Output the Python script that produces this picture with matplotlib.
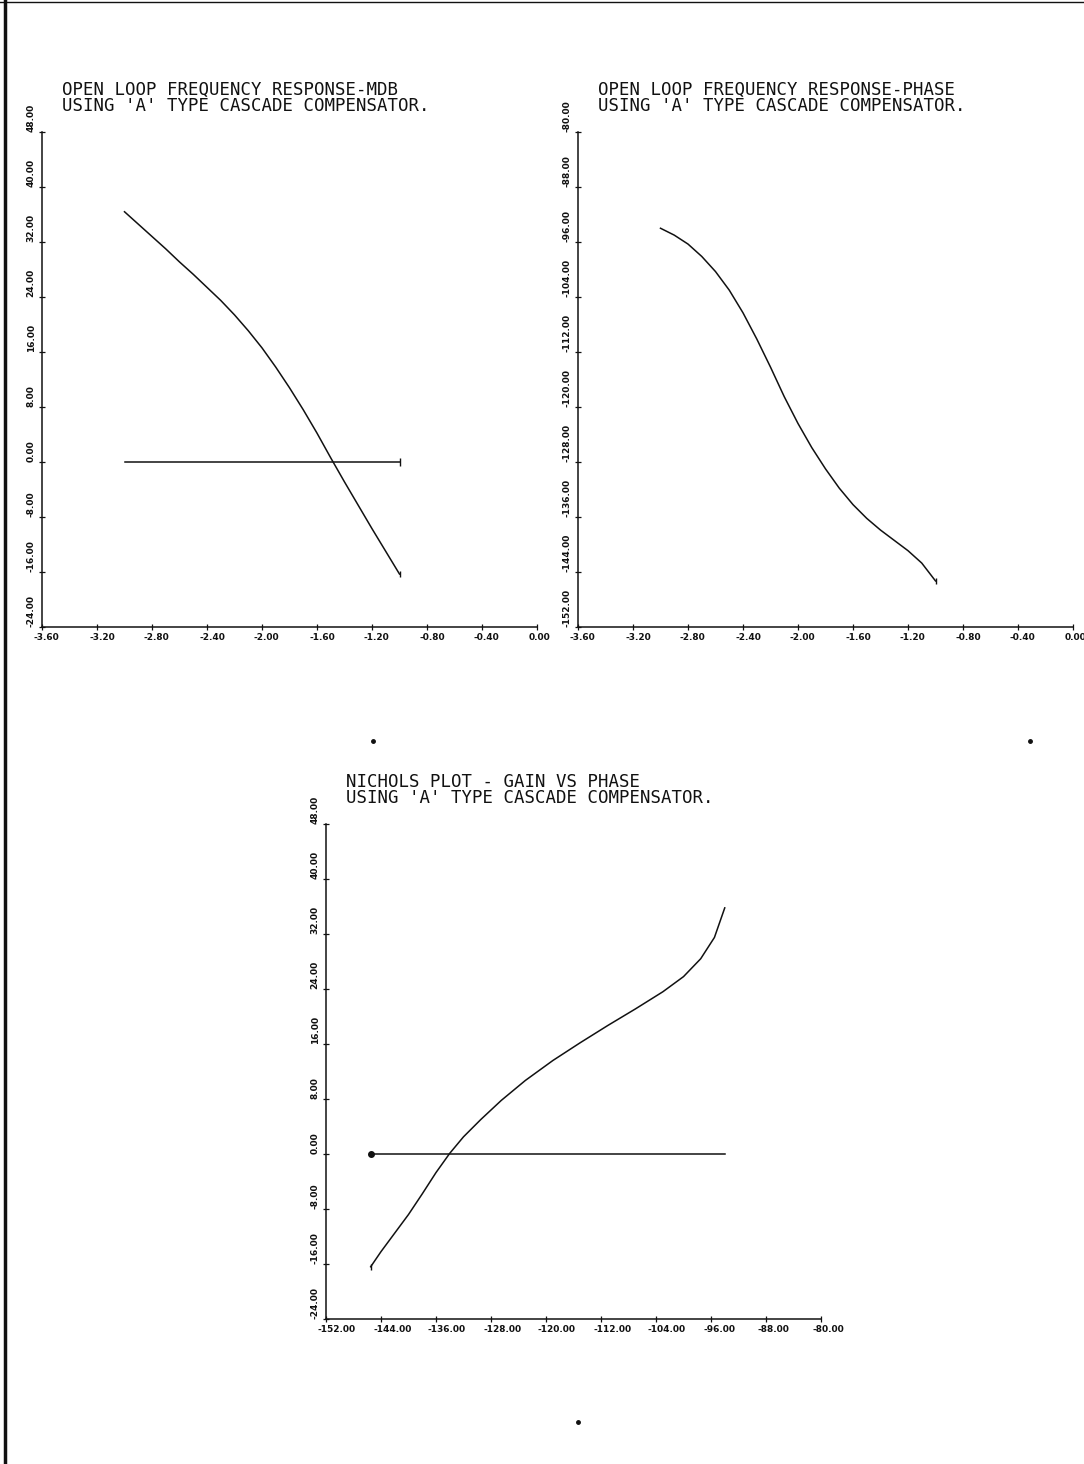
import matplotlib
matplotlib.use("Agg")
import matplotlib.pyplot as plt
import matplotlib.transforms as mtransforms
from matplotlib.lines import Line2D

# log10(frequency) and the open loop response
log_w = [-3.0, -2.9, -2.8, -2.7, -2.6, -2.5, -2.4, -2.3, -2.2, -2.1, -2.0,
         -1.9, -1.8, -1.7, -1.6, -1.5, -1.4, -1.3, -1.2, -1.1, -1.0]
gain_db = [36.4, 34.6, 32.8, 31.0, 29.1, 27.3, 25.4, 23.5, 21.4, 19.1, 16.6,
           13.8, 10.8, 7.6, 4.2, 0.6, -2.9, -6.3, -9.7, -13.0, -16.3]
phase_deg = [-94.0, -95.0, -96.3, -98.1, -100.3, -103.0, -106.3, -110.1, -114.2, -118.5, -122.4,
             -125.9, -129.0, -131.8, -134.2, -136.2, -137.9, -139.4, -140.9, -142.7, -145.3]

# Nichols panel, read separately
nichols_phase = [-145.5, -144.0, -142.0, -140.0, -138.0, -136.0, -134.0, -132.0, -129.5, -126.5,
                 -123.0, -119.0, -115.0, -111.0, -107.0, -103.0, -100.0, -97.5, -95.5, -94.0]
nichols_gain = [-16.4, -14.2, -11.5, -8.8, -5.8, -2.7, 0.1, 2.5, 5.0, 7.8,
                10.7, 13.6, 16.2, 18.7, 21.1, 23.6, 25.8, 28.4, 31.5, 35.8]

freq_ticks = [-3.6, -3.2, -2.8, -2.4, -2.0, -1.6, -1.2, -0.8, -0.4, 0.0]
gain_ticks = [-24, -16, -8, 0, 8, 16, 24, 32, 40, 48]
phase_ticks = [-152, -144, -136, -128, -120, -112, -104, -96, -88, -80]

titles = [
    "OPEN LOOP FREQUENCY RESPONSE-MDB\nUSING 'A' TYPE CASCADE COMPENSATOR.",
    "OPEN LOOP FREQUENCY RESPONSE-PHASE\nUSING 'A' TYPE CASCADE COMPENSATOR.",
    "NICHOLS PLOT - GAIN VS PHASE\nUSING 'A' TYPE CASCADE COMPENSATOR.",
]

W, H = 1084, 1464
INK = "#111111"
fig = plt.figure(figsize=(W / 100, H / 100), dpi=100)


def px_axes(left, top, size=495):
    return fig.add_axes([left / W, 1 - (top + size) / H, size / W, size / H])


def style_axes(ax, xticks, yticks):
    ax.set_xlim(xticks[0], xticks[-1])
    ax.set_ylim(yticks[0], yticks[-1])
    for s in ["top", "right"]:
        ax.spines[s].set_visible(False)
    for s in ["left", "bottom"]:
        ax.spines[s].set_linewidth(1.1)
        ax.spines[s].set_color(INK)
    ax.set_xticks(xticks)
    ax.set_yticks(yticks)
    ax.set_xticklabels([f"{v:.2f}" for v in xticks], fontsize=6.5,
                       fontweight="bold", ha="left", color=INK)
    ax.set_yticklabels([f"{v:.2f}" for v in yticks], fontsize=6.5,
                       fontweight="bold", rotation=90, va="bottom", color=INK)
    ax.tick_params(direction="inout", length=5, width=0.9, pad=2, colors=INK)
    shift = mtransforms.ScaledTranslation(-8 / 100, 0, fig.dpi_scale_trans)
    for lbl in ax.get_xticklabels():
        lbl.set_transform(lbl.get_transform() + shift)
    ax.patch.set_alpha(0)


def put_title(left, top, text):
    l1, l2 = text.split("\n")
    fig.text((left + 20) / W, 1 - (top - 42) / H, l1, family="DejaVu Sans Mono",
             fontsize=12.5, va="center", ha="left", color=INK)
    fig.text((left + 20) / W, 1 - (top - 26) / H, l2, family="DejaVu Sans Mono",
             fontsize=12.5, va="center", ha="left", color=INK)


# magnitude
ax1 = px_axes(42, 132)
style_axes(ax1, freq_ticks, gain_ticks)
ax1.plot(log_w, gain_db, color=INK, lw=1.1)
ax1.plot([log_w[0], log_w[-1]], [0, 0], color=INK, lw=1.1)
ax1.plot(log_w[-1], 0, marker="|", ms=6, color=INK)
ax1.plot(log_w[-1], gain_db[-1], marker="|", ms=5, color=INK)
put_title(42, 132, titles[0])

# phase
ax2 = px_axes(578, 132)
style_axes(ax2, freq_ticks, phase_ticks)
ax2.plot(log_w, phase_deg, color=INK, lw=1.1)
ax2.plot(log_w[-1], phase_deg[-1], marker="|", ms=5, color=INK)
put_title(578, 132, titles[1])

# nichols
ax3 = px_axes(326, 824)
style_axes(ax3, phase_ticks, gain_ticks)
ax3.plot(nichols_phase, nichols_gain, color=INK, lw=1.1)
ax3.plot([nichols_phase[0], nichols_phase[-1]], [0, 0], color=INK, lw=1.1)
ax3.plot(nichols_phase[0], 0, marker="o", ms=4, color=INK)
ax3.plot(nichols_phase[0], nichols_gain[0], marker="|", ms=5, color=INK)
put_title(326, 824, titles[2])

# page border and scan specks
fig.add_artist(Line2D([5 / W, 5 / W], [0, 1], lw=2.5, color=INK, transform=fig.transFigure))
fig.add_artist(Line2D([0, 1], [1 - 2 / H, 1 - 2 / H], lw=1.0, color=INK, transform=fig.transFigure))
for sx, sy in [(373, 741), (1030, 741), (578, 1422)]:
    fig.add_artist(Line2D([sx / W], [1 - sy / H], marker="o", ms=2.5, color=INK,
                          transform=fig.transFigure))

fig.savefig("out.png", dpi=100)
